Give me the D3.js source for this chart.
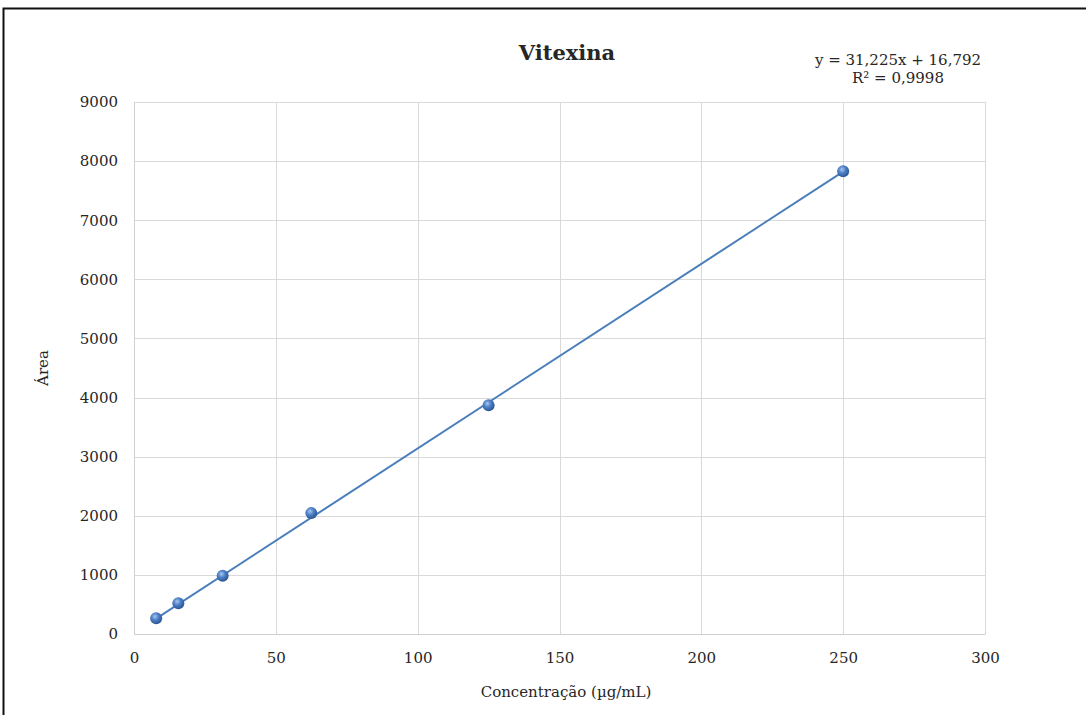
<!DOCTYPE html>
<html>
<head>
<meta charset="utf-8">
<script src="https://cdn.jsdelivr.net/npm/d3@7"></script>
<style>
  body { margin: 0; background: #fff; }
  text { font-family: "DejaVu Serif", Georgia, serif; fill: #262626; }
</style>
</head>
<body>
<svg id="chart" width="1086" height="715"></svg>
<script>
// calibration data
const concentration = [7.8125, 15.625, 31.25, 62.5, 125, 250]
const area = [265, 519, 985, 2045, 3868, 7827]
const xTicks = [0, 50, 100, 150, 200, 250, 300]
const yTicks = [0, 1000, 2000, 3000, 4000, 5000, 6000, 7000, 8000, 9000]
const slope = 31.225
const intercept = 16.792
const equationText = ['y = 31,225x + 16,792', 'R² = 0,9998']

const svg = d3.select('#chart')

const margin = { left: 134, right: 101, top: 102, bottom: 81 }
const width = 1086 - margin.left - margin.right
const height = 715 - margin.top - margin.bottom

const x = d3.scaleLinear().domain([0, 300]).range([0, width])
const y = d3.scaleLinear().domain([0, 9000]).range([height, 0])

// outer frame
svg.append('rect')
    .attr('x', 3.5).attr('y', 8.5)
    .attr('width', 1200).attr('height', 800)
    .attr('fill', 'none')
    .attr('stroke', '#111')
    .attr('stroke-width', 2)

const defs = svg.append('defs')
const grad = defs.append('radialGradient')
    .attr('id', 'ball')
    .attr('cx', '40%').attr('cy', '35%').attr('r', '65%')
grad.append('stop').attr('offset', '0%').attr('stop-color', '#a9c7ee')
grad.append('stop').attr('offset', '45%').attr('stop-color', '#4f81c9')
grad.append('stop').attr('offset', '100%').attr('stop-color', '#2a5590')

const g = svg.append('g').attr('transform', `translate(${margin.left},${margin.top})`)

// gridlines
g.append('g')
    .selectAll('line')
    .data(yTicks)
    .join('line')
    .attr('x1', 0).attr('x2', width)
    .attr('y1', (d) => Math.round(y(d)) + 0.5)
    .attr('y2', (d) => Math.round(y(d)) + 0.5)
    .attr('stroke', '#d9d9d9')

g.append('g')
    .selectAll('line')
    .data(xTicks)
    .join('line')
    .attr('y1', 0).attr('y2', height)
    .attr('x1', (d) => Math.round(x(d)) + 0.5)
    .attr('x2', (d) => Math.round(x(d)) + 0.5)
    .attr('stroke', '#d9d9d9')

// axes
const xAxis = g.append('g')
    .attr('transform', `translate(0,${height})`)
    .call(d3.axisBottom(x).tickValues(xTicks).tickSize(0).tickPadding(18))
xAxis.select('.domain').attr('stroke', '#d0d0d0')
xAxis.selectAll('text')
    .attr('font-size', 15)
    .attr('font-family', '"DejaVu Serif", serif')
    .attr('fill', '#262626')

const yAxis = g.append('g')
    .call(d3.axisLeft(y).tickValues(yTicks).tickFormat(d3.format('d')).tickSize(0).tickPadding(16))
yAxis.select('.domain').attr('stroke', '#d0d0d0')
yAxis.selectAll('text')
    .attr('font-size', 15)
    .attr('font-family', '"DejaVu Serif", serif')
    .attr('fill', '#262626')

// trendline
const x0 = d3.min(concentration)
const x1 = d3.max(concentration)
g.append('line')
    .attr('x1', x(x0)).attr('y1', y(slope * x0 + intercept))
    .attr('x2', x(x1)).attr('y2', y(slope * x1 + intercept))
    .attr('stroke', '#4a7ebb')
    .attr('stroke-width', 2)

// points
g.append('g')
    .selectAll('circle')
    .data(concentration)
    .join('circle')
    .attr('cx', (d) => x(d))
    .attr('cy', (d, i) => y(area[i]))
    .attr('r', 6)
    .attr('fill', 'url(#ball)')

// titles
svg.append('text')
    .attr('x', 567).attr('y', 60)
    .attr('text-anchor', 'middle')
    .attr('font-size', 21)
    .attr('font-weight', 'bold')
    .attr('fill', '#000')
    .text('Vitexina')

svg.append('g')
    .selectAll('text')
    .data(equationText)
    .join('text')
    .attr('x', 898)
    .attr('y', (d, i) => 65 + i * 18)
    .attr('text-anchor', 'middle')
    .attr('font-size', 15)
    .text((d) => d)

svg.append('text')
    .attr('transform', 'translate(48,368) rotate(-90)')
    .attr('text-anchor', 'middle')
    .attr('font-size', 15)
    .text('Área')

svg.append('text')
    .attr('x', 566).attr('y', 697)
    .attr('text-anchor', 'middle')
    .attr('font-size', 15)
    .text('Concentração (µg/mL)')
</script>
</body>
</html>
